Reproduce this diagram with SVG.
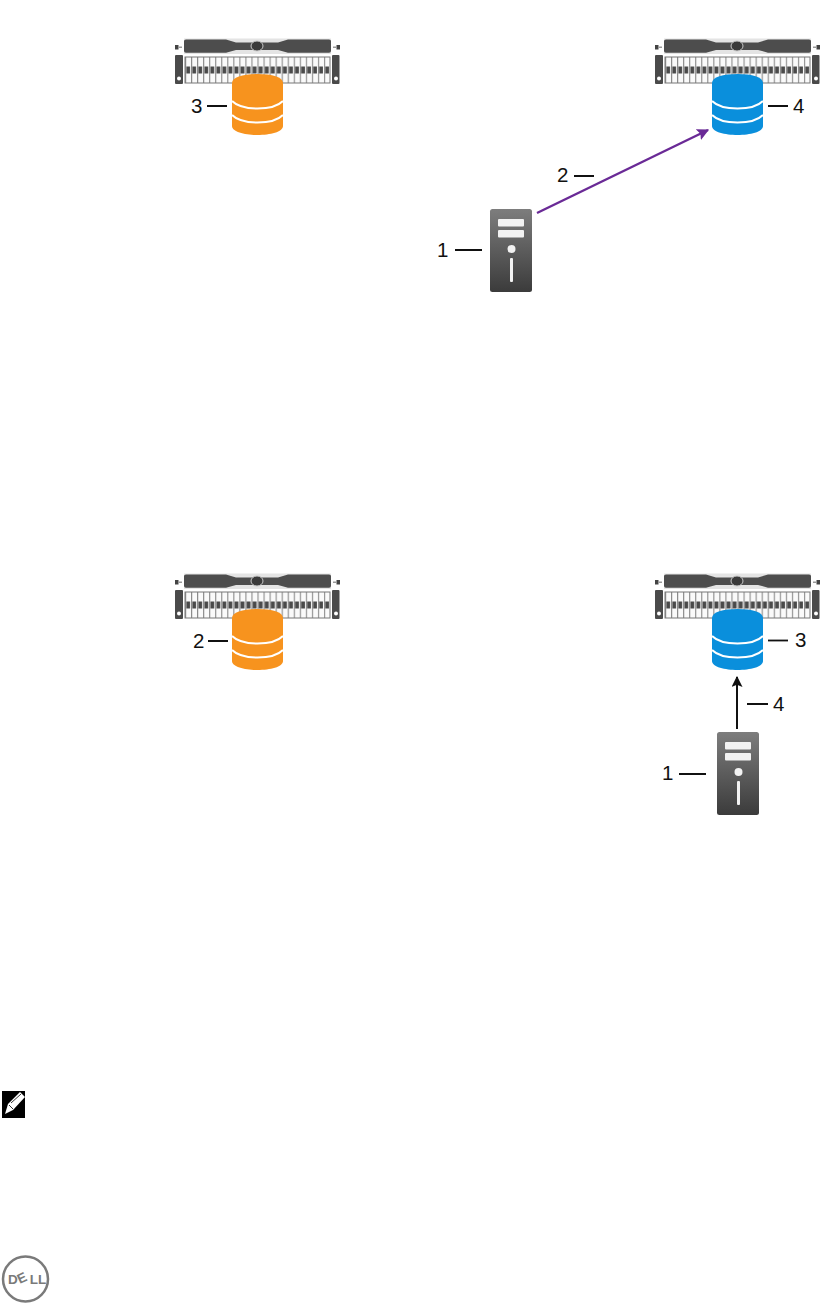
<svg xmlns="http://www.w3.org/2000/svg" width="823" height="1303" viewBox="0 0 823 1303">
<style>
.lbl{font-family:"Liberation Sans",Arial,sans-serif;font-size:20.500px;fill:#111}
.lead{stroke:#111;stroke-width:1.800;fill:none}
.band{fill:none;stroke:#fff;stroke-width:2}
.dark{fill:#4d4d4d}
</style>
<defs>
<linearGradient id="tg" x1="0" y1="0" x2="0" y2="1"><stop offset="0" stop-color="#7d7d7d"/><stop offset="1" stop-color="#3b3b3b"/></linearGradient>
<pattern id="drv" patternUnits="userSpaceOnUse" x="185" y="57" width="6.04" height="27">
<rect width="6.04" height="27" fill="#fafafa"/>
<rect x="0" width="1.100" height="27" fill="#8a8a8a"/>
<rect x="1.300" y="9.500" width="3.800" height="7" fill="#4a4a4a"/>
</pattern>
<g id="rack">
<rect x="184" y="38.500" width="147" height="15.500" fill="#e4e4e4"/>
<path class="dark" d="M186 39.500H226L236 42.500H278L288 39.500H329Q331 39.500 331 41V51Q331 52.700 329 52.700H288L278 50H236L226 52.700H186Q184 52.700 184 51V41Q184 39.500 186 39.500Z"/>
<ellipse cx="257" cy="46" rx="6" ry="5" fill="#3a3a3a" stroke="#c8c8c8" stroke-width="1"/>
<rect x="175" y="45" width="3.500" height="4.500" fill="#444"/><rect x="178.500" y="46.500" width="3.500" height="1.500" fill="#999"/>
<rect x="336.500" y="45" width="3.500" height="4.500" fill="#444"/><rect x="333" y="46.500" width="3.500" height="1.500" fill="#999"/>
<rect x="175" y="55" width="8" height="29" rx="1" fill="#4a4a4a"/><circle cx="179" cy="78.500" r="2" fill="#fff"/>
<rect x="332" y="55" width="7.500" height="29" rx="1" fill="#4a4a4a"/><circle cx="336" cy="78.500" r="2" fill="#fff"/>
<rect x="185" y="57" width="145" height="26" fill="url(#drv)" stroke="#777" stroke-width="1"/>
</g>
<g id="cyl">
<path d="M0 9C0 3 11 0 25.500 0S51 3 51 9V52C51 58 38 61 25.500 61S0 58 0 52Z"/>
<path class="band" d="M0 27C6 33 16 34.500 25.500 34.500S45 33 51 27"/>
<path class="band" d="M0 41C6 47 16 48.500 25.500 48.500S45 47 51 41"/>
</g>
<g id="tower">
<rect width="42" height="83" rx="2.500" fill="url(#tg)"/>
<rect x="8" y="10" width="26" height="7.500" rx="1" fill="#f2f2f2"/>
<rect x="8" y="21" width="26" height="7.500" rx="1" fill="#f2f2f2"/>
<circle cx="21.500" cy="40" r="4" fill="#f2f2f2"/>
<rect x="20" y="49" width="3" height="24" rx="1" fill="#f2f2f2"/>
</g>
<marker id="ap" viewBox="0 0 10 10" refX="9" refY="5" markerWidth="12" markerHeight="12" markerUnits="userSpaceOnUse" orient="auto"><path d="M0 0L10 5L0 10L2 5Z" fill="#6a2a96"/></marker>
<marker id="ak" viewBox="0 0 10 10" refX="9" refY="5" markerWidth="11" markerHeight="11" markerUnits="userSpaceOnUse" orient="auto"><path d="M0 0L10 5L0 10L2 5Z" fill="#111"/></marker>
</defs>
<rect width="823" height="1303" fill="#fff"/>
<g id="rack-top-left"><use href="#rack"/></g>
<g id="rack-top-right"><use href="#rack" transform="translate(480 0)"/></g>
<g id="rack-bottom-left"><use href="#rack" transform="translate(0 535)"/></g>
<g id="rack-bottom-right"><use href="#rack" transform="translate(480 535)"/></g>
<g id="db-top-left" fill="#f7931e"><use href="#cyl" transform="translate(232 74)"/></g>
<g id="db-top-right" fill="#0a8fdc"><use href="#cyl" transform="translate(712 74)"/></g>
<g id="db-bottom-left" fill="#f7931e"><use href="#cyl" transform="translate(232 609)"/></g>
<g id="db-bottom-right" fill="#0a8fdc"><use href="#cyl" transform="translate(712 609)"/></g>
<g id="server-top"><use href="#tower" transform="translate(490 209)"/></g>
<g id="server-bottom"><use href="#tower" transform="translate(717 732)"/></g>
<g id="connectors">
<path d="M537 213L708 130" fill="none" stroke="#6a2a96" stroke-width="2.400" marker-end="url(#ap)"/>
<path d="M737 729V677" fill="none" stroke="#111" stroke-width="2" marker-end="url(#ak)"/>
<path class="lead" d="M207 106H227M768 106H788M574 176H594M455 250H482M208 641H228M747 704H768M679 774H706"/>
<path class="lead" stroke-width="1.200" d="M768 640.500H788"/>
</g>
<g id="labels">
<text class="lbl" x="191" y="113">3</text>
<text class="lbl" x="793" y="113">4</text>
<text class="lbl" x="557" y="182">2</text>
<text class="lbl" x="437" y="257">1</text>
<text class="lbl" x="193" y="648">2</text>
<text class="lbl" x="795" y="647">3</text>
<text class="lbl" x="773" y="711">4</text>
<text class="lbl" x="662" y="780">1</text>
</g>
<g id="note-icon">
<rect x="2" y="1091" width="23" height="27" fill="#000"/>
<path d="M5 1114L8 1104L20 1092L25 1097L13 1110Z" fill="#fff"/>
<path d="M9 1105L13 1109M11 1103L21 1094" stroke="#000" stroke-width="0.800" fill="none"/>
</g>
<g id="dell-logo">
<circle cx="25.500" cy="1279" r="22.500" fill="none" stroke="#7a7a7a" stroke-width="2.500"/>
<text x="8" y="1284" font-family="Liberation Sans,Arial,sans-serif" font-weight="700" font-size="13.500" fill="#7a7a7a" rotate="0 -25 0 0" dx="0 2 1 0">DELL</text>
</g>
</svg>
